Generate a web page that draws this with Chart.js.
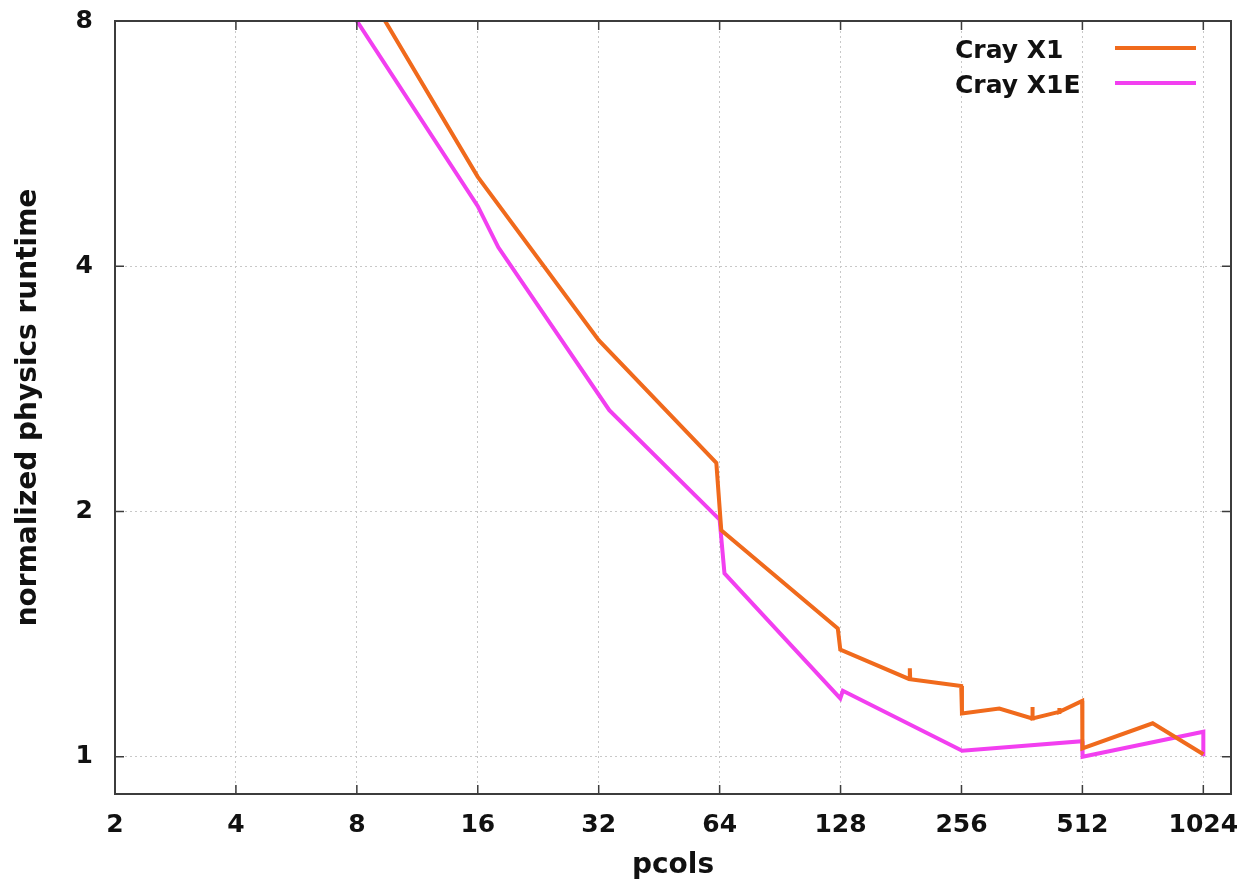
<!DOCTYPE html>
<html>
<head>
<meta charset="utf-8">
<script src="https://cdn.jsdelivr.net/npm/chart.js@4"></script>
<style>
  html, body { margin: 0; padding: 0; background: #fff; }
  #wrap { width: 1243px; height: 880px; }
</style>
</head>
<body>
<div id="wrap"><canvas id="runtimeChart" width="1243" height="880"></canvas></div>
<script>
// x: processor columns, y: physics runtime normalized to the 1024 run
const xTicks = [2, 4, 8, 16, 32, 64, 128, 256, 512, 1024];
const yTicks = [1, 2, 4, 8];

const x1Pcols = [8, 16, 32, 62.8, 64.6, 126, 127.8, 190, 190.4, 190.8, 255.6, 256.7, 318,
  384, 384.5, 385, 448, 448.5, 449, 511.3, 512, 766, 1024];
const x1Runtime = [9.15, 5.15, 3.245, 2.294, 1.897, 1.437, 1.354, 1.245, 1.284, 1.245, 1.221, 1.130, 1.146,
  1.114, 1.151, 1.114, 1.135, 1.148, 1.135, 1.171, 1.024, 1.099, 1.007];

const x1ePcols = [8, 16, 18, 34, 64, 65.8, 127.8, 129.7, 257, 511.3, 512.5, 1024, 1024];
const x1eRuntime = [8.0, 4.74, 4.22, 2.663, 1.955, 1.679, 1.179, 1.205, 1.017, 1.045, 1.0, 1.073, 1.001];

const ORANGE = "#f06a1c";
const MAGENTA = "#f23ff0";
const FONT = "'DejaVu Sans', Verdana, sans-serif";

Chart.defaults.color = "#111";
Chart.defaults.font.family = FONT;

const toPoints = (xs, ys) => xs.map((x, i) => ({ x: x, y: ys[i] }));

// gnuplot style frame: box, inward ticks on all sides, legend inside top right
const framePlugin = {
  id: "frame",
  afterDatasetsDraw(chart) {
    const { ctx, chartArea: a, scales } = chart;
    ctx.save();
    ctx.strokeStyle = "#3c3c3c";
    ctx.lineWidth = 2;
    ctx.strokeRect(a.left, a.top, a.right - a.left, a.bottom - a.top);

    ctx.lineWidth = 1.5;
    ctx.beginPath();
    xTicks.forEach(v => {
      const px = scales.x.getPixelForValue(v);
      ctx.moveTo(px, a.bottom); ctx.lineTo(px, a.bottom - 9);
      ctx.moveTo(px, a.top); ctx.lineTo(px, a.top + 9);
    });
    yTicks.forEach(v => {
      const py = scales.y.getPixelForValue(v);
      ctx.moveTo(a.left, py); ctx.lineTo(a.left + 9, py);
      ctx.moveTo(a.right, py); ctx.lineTo(a.right - 9, py);
    });
    ctx.stroke();

    ctx.font = "bold 25px " + FONT;
    ctx.textAlign = "left";
    ctx.textBaseline = "middle";
    chart.data.datasets.forEach((ds, i) => {
      const ly = a.top + 27 + i * 35;
      ctx.fillStyle = "#111";
      ctx.fillText(ds.label, a.right - 276, ly + 3);
      ctx.strokeStyle = ds.borderColor;
      ctx.lineWidth = 4;
      ctx.beginPath();
      ctx.moveTo(a.right - 116, ly);
      ctx.lineTo(a.right - 35, ly);
      ctx.stroke();
    });
    ctx.restore();
  }
};

new Chart(document.getElementById("runtimeChart"), {
  type: "scatter",
  data: {
    datasets: [
      {
        label: "Cray X1",
        data: toPoints(x1Pcols, x1Runtime),
        borderColor: ORANGE,
        backgroundColor: ORANGE,
        borderWidth: 4,
        showLine: true,
        pointRadius: 0,
        tension: 0
      },
      {
        label: "Cray X1E",
        data: toPoints(x1ePcols, x1eRuntime),
        borderColor: MAGENTA,
        backgroundColor: MAGENTA,
        borderWidth: 4,
        showLine: true,
        pointRadius: 0,
        tension: 0
      }
    ]
  },
  options: {
    responsive: false,
    animation: false,
    layout: { padding: { top: 21, right: 12, left: 0, bottom: 0 } },
    plugins: {
      legend: { display: false },
      tooltip: { enabled: false }
    },
    scales: {
      x: {
        type: "logarithmic",
        min: 2,
        max: 1200,
        afterBuildTicks: s => { s.ticks = xTicks.map(v => ({ value: v })); },
        afterFit: s => { s.height = 86; s.paddingLeft = 0; s.paddingRight = 0; },
        ticks: {
          callback: v => String(v),
          font: { size: 25, weight: "bold" },
          color: "#111",
          padding: 16,
          maxRotation: 0,
          autoSkip: false
        },
        grid: { color: "#c8c8c8", lineWidth: 1, drawTicks: false },
        border: { display: false, dash: [2, 3] },
        title: {
          display: true,
          text: "pcols",
          font: { size: 28, weight: "bold", lineHeight: 1 },
          color: "#111",
          padding: { top: 0, bottom: 0 }
        }
      },
      y: {
        type: "logarithmic",
        min: 0.9,
        max: 8,
        afterBuildTicks: s => { s.ticks = yTicks.map(v => ({ value: v })); },
        afterFit: s => { s.width = 115; s.paddingTop = 0; s.paddingBottom = 0; },
        ticks: {
          callback: v => String(v),
          font: { size: 25, weight: "bold" },
          color: "#111",
          padding: 22,
          autoSkip: false
        },
        grid: { color: "#c8c8c8", lineWidth: 1, drawTicks: false },
        border: { display: false, dash: [2, 3] },
        title: {
          display: true,
          text: "normalized physics runtime",
          font: { size: 28, weight: "bold", lineHeight: 1.2 },
          color: "#111",
          padding: { top: 12, bottom: 0 }
        }
      }
    }
  },
  plugins: [framePlugin]
});
</script>
</body>
</html>
